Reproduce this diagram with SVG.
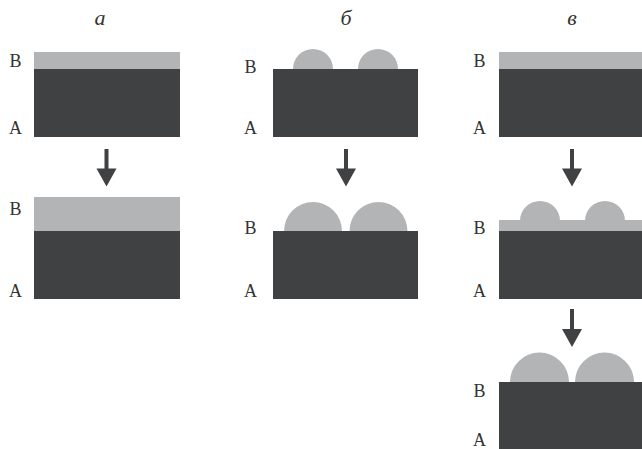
<svg xmlns="http://www.w3.org/2000/svg" width="642" height="449" viewBox="0 0 642 449">
<style>
.dk{fill:#404143}
.lt{fill:#b3b4b6}
.lb{font-family:"Liberation Serif","DejaVu Serif",serif;font-size:18px;fill:#333;text-anchor:middle}
.tt{font-family:"Liberation Serif","DejaVu Serif",serif;font-size:22px;font-style:italic;fill:#333;text-anchor:middle}
.ar{fill:#404143}
</style>
<rect width="642" height="449" fill="#fff"/>
<g id="titles">
<text class="tt" x="100" y="25">а</text>
<text class="tt" x="346" y="25">б</text>
<text class="tt" x="572" y="25">в</text>
</g>
<g id="a1">
<rect class="lt" x="34" y="52" width="146" height="17"/>
<rect class="dk" x="34" y="69" width="146" height="68"/>
<text class="lb" x="15.5" y="67">В</text>
<text class="lb" x="15.5" y="134">А</text>
</g>
<g id="a2">
<rect class="lt" x="34" y="197" width="146" height="34"/>
<rect class="dk" x="34" y="231" width="146" height="68"/>
<text class="lb" x="15.5" y="215">В</text>
<text class="lb" x="15.5" y="297">А</text>
</g>
<g id="b1">
<path class="lt" d="M293 69 A20 20 0 0 1 333 69 Z M358 69 A20 20 0 0 1 398 69 Z"/>
<rect class="dk" x="273" y="69" width="145" height="68"/>
<text class="lb" x="250.5" y="73">В</text>
<text class="lb" x="250.5" y="134">А</text>
</g>
<g id="b2">
<path class="lt" d="M284 231 A29 29 0 0 1 342 231 Z M349.5 231 A29 29 0 0 1 407.5 231 Z"/>
<rect class="dk" x="273" y="231" width="145" height="68"/>
<text class="lb" x="250.5" y="234">В</text>
<text class="lb" x="250.5" y="297">А</text>
</g>
<g id="c1">
<rect class="lt" x="499" y="52" width="143" height="17"/>
<rect class="dk" x="499" y="69" width="143" height="68"/>
<text class="lb" x="479.5" y="67">В</text>
<text class="lb" x="479.5" y="134">А</text>
</g>
<g id="c2">
<path class="lt" d="M520 221 A20 20 0 0 1 560 221 Z M585 221 A20 20 0 0 1 625 221 Z"/>
<rect class="lt" x="499" y="220" width="143" height="11"/>
<rect class="dk" x="499" y="231" width="143" height="68"/>
<text class="lb" x="479.5" y="234">В</text>
<text class="lb" x="479.5" y="297">А</text>
</g>
<g id="c3">
<path class="lt" d="M510 382 A29.5 29.5 0 0 1 569 382 Z M575 382 A29.5 29.5 0 0 1 634 382 Z"/>
<rect class="dk" x="499" y="382" width="143" height="68"/>
<text class="lb" x="479.5" y="397">В</text>
<text class="lb" x="479.5" y="446">А</text>
</g>
<g id="connectors">
<path class="ar" d="M104.5 149 H108.5 V168.5 H116.5 L106.5 186.5 L96.5 168.5 H104.5 Z"/>
<path class="ar" d="M344 149 H348 V168.5 H356 L346 186.5 L336 168.5 H344 Z"/>
<path class="ar" d="M570 149 H574 V168.5 H582 L572 186.5 L562 168.5 H570 Z"/>
<path class="ar" d="M570 309 H574 V329 H582 L572 347 L562 329 H570 Z"/>
</g>
</svg>
